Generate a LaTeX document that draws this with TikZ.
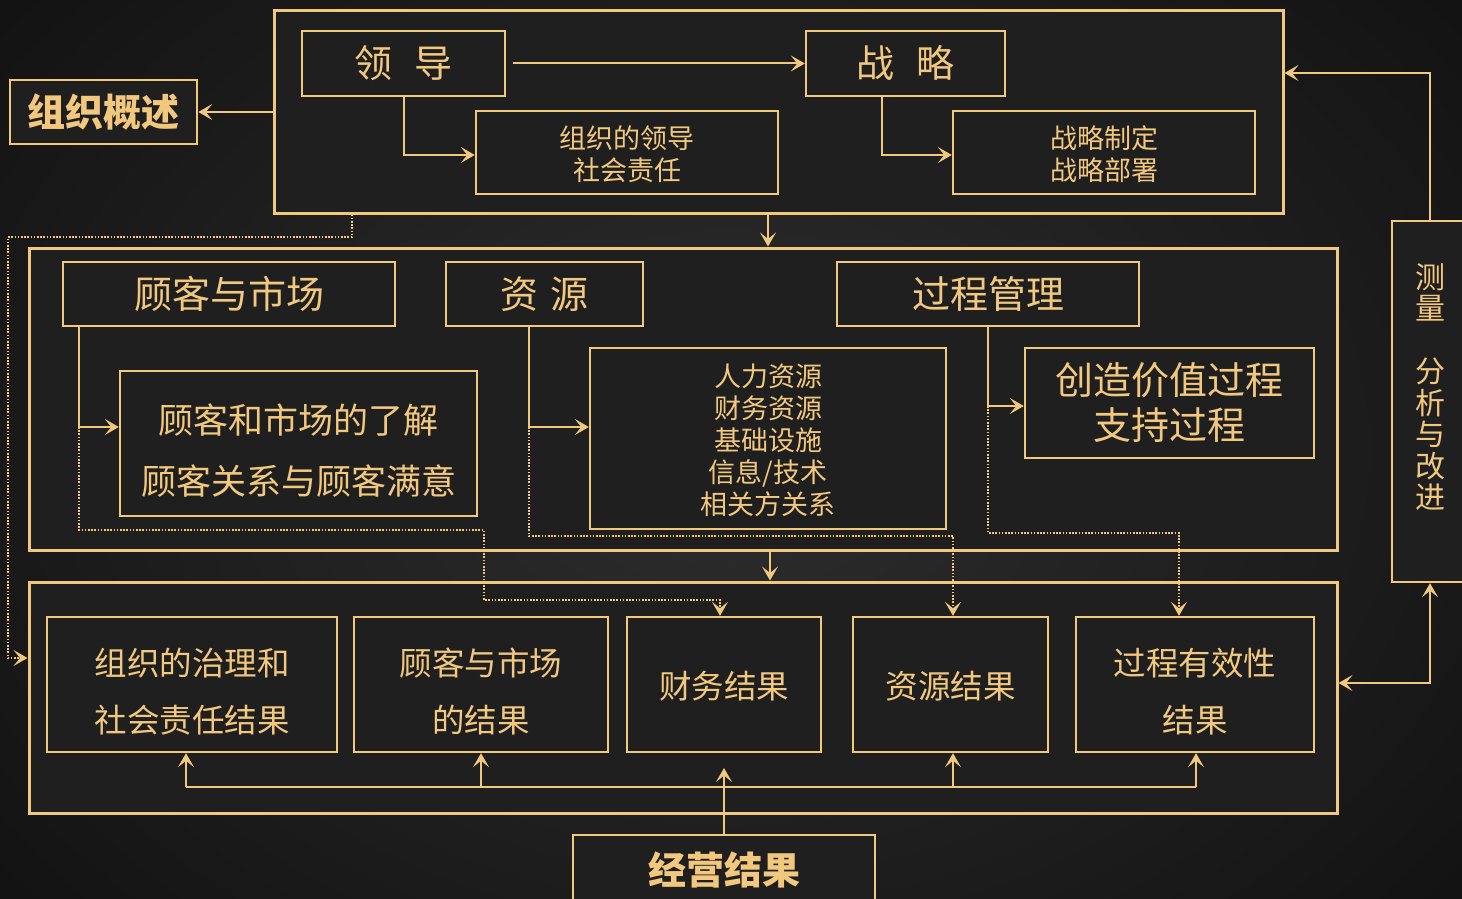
\documentclass[tikz,border=0pt]{standalone}
\usepackage{fontspec}
\setmainfont{Noto Sans CJK SC}
\usetikzlibrary{arrows.meta}
\definecolor{gold}{HTML}{F2C87E}
\definecolor{boxbg}{HTML}{1F1F1F}
\definecolor{bgout}{HTML}{131313}
\definecolor{bgin}{HTML}{2E2E2E}
\newcommand\myfs[2]{\fontsize{#1}{#2}\selectfont}
\tikzset{
  bigbox/.style={draw=gold, line width=3pt, fill=boxbg, inner sep=0pt},
  box/.style={draw=gold, line width=2.4pt, fill=boxbg, text=gold, align=center, inner sep=0pt},
  txt/.style={text=gold, align=center, inner sep=0pt},
  conn/.style={draw=gold, line width=2pt},
  tip/.tip={Stealth[length=14pt,width=16pt,inset=6.5pt]},
  arr/.style={conn, -tip},
  biarr/.style={conn, tip-tip},
  dotarr/.style={draw=gold, line width=1.6pt, dash pattern=on 1.6pt off 1.6pt, -tip},
  tbig/.style={font=\myfs{38}{44}},
  tsmall/.style={font=\myfs{27}{32}},
  tres/.style={font=\myfs{32.5}{57}},
}
\begin{document}
\begin{tikzpicture}[x=1pt,y=-1pt]
\useasboundingbox (0,0) rectangle (1462,899);
\fill[bgout] (0,0) rectangle (1462,899);
\shade[inner color=bgin, outer color=bgout] (-200,-250) rectangle (1662,1149);

% top area
\node[bigbox, minimum width=1009pt, minimum height=202pt] (top) at (778.5,112) {};
\node[box, line width=2.6pt, minimum width=187pt, minimum height=64pt, font=\myfs{38}{44}\bfseries] (org) at (103.5,112) {组织概述};
\node[box, tbig, minimum width=203pt, minimum height=65pt] (lead) at (403.5,63.5) {领\hspace{0.6em}导};
\node[box, tbig, minimum width=199pt, minimum height=65pt] (strat) at (905.5,63.5) {战\hspace{0.6em}略};
\node[box, minimum width=302pt, minimum height=83pt] (leadsub) at (627,152.5) {};
\node[txt, tsmall] (leadsubt) at ([yshift=-2pt]leadsub) {组织的领导\\社会责任};
\node[box, minimum width=302pt, minimum height=83pt] (stratsub) at (1104,152.5) {};
\node[txt, tsmall] (stratsubt) at ([yshift=-2pt]stratsub) {战略制定\\战略部署};

% middle area
\node[bigbox, minimum width=1308pt, minimum height=302pt] (mid) at (683,399) {};
\node[box, tbig, minimum width=332pt, minimum height=64pt] (cust) at (229,294) {顾客与市场};
\node[box, tbig, minimum width=197pt, minimum height=64pt] (res) at (544.5,294) {资\hspace{0.3em}源};
\node[box, tbig, minimum width=302pt, minimum height=64pt] (proc) at (988,294) {过程管理};
\node[box, minimum width=357pt, minimum height=145pt] (custsub) at (298.5,443.5) {};
\node[txt, font=\myfs{35}{61}] (custsubt) at ([yshift=-7.5pt]custsub) {顾客和市场的了解\\顾客关系与顾客满意};
\node[box, minimum width=356pt, minimum height=181pt] (ressub) at (768,438.5) {};
\node[txt, tsmall] (ressubt) at ([yshift=-2pt]ressub) {人力资源\\财务资源\\基础设施\\信息/技术\\相关方关系};
\node[box, font=\myfs{38}{45}, minimum width=289pt, minimum height=110pt] (procsub) at (1169.5,403) {创造价值过程\\支持过程};

% bottom area
\node[bigbox, minimum width=1308pt, minimum height=231pt] (bot) at (683,697.5) {};
\node[box, minimum width=290pt, minimum height=135pt] (r1) at (192,684.5) {};
\node[txt, tres] (r1t) at ([yshift=-7pt]r1) {组织的治理和\\社会责任结果};
\node[box, minimum width=254pt, minimum height=135pt] (r2) at (481,684.5) {};
\node[txt, tres] (r2t) at ([yshift=-7pt]r2) {顾客与市场\\的结果};
\node[box, minimum width=194pt, minimum height=135pt] (r3) at (724,684.5) {};
\node[txt, tres] (r3t) at ([yshift=-2pt]r3) {财务结果};
\node[box, minimum width=195pt, minimum height=135pt] (r4) at (950.5,684.5) {};
\node[txt, tres] (r4t) at ([yshift=-2pt]r4) {资源结果};
\node[box, minimum width=238pt, minimum height=135pt] (r5) at (1195,684.5) {};
\node[txt, tres] (r5t) at ([yshift=-7pt]r5) {过程有效性\\结果};
\node[box, line width=2.6pt, minimum width=302pt, minimum height=80pt] (biz) at (724,875) {};
\node[txt, font=\myfs{38}{44}\bfseries] (biztext) at (724,870) {经营结果};

% right box
\node[box, line width=2.4pt, minimum width=83pt, minimum height=361pt] (meas) at (1433.5,401.5) {};
\node[txt, font=\myfs{30}{31.5}] (meastext) at (1430,387) {测\\量\\ \\分\\析\\与\\改\\进};

% coordinates
\coordinate (d1) at (352,237);
\coordinate (d2) at (8,658);
\coordinate (c1) at (79,427);
\coordinate (c2) at (484,530);
\coordinate (c3) at (720,600);
\coordinate (s1) at (529,427);
\coordinate (s2) at (953,536);
\coordinate (p2) at (1179,533);
\coordinate (mm) at (770,0);
\coordinate (b1) at (186,787);
\coordinate (b5) at (1196,787);
\coordinate (bt) at (724,768);
\coordinate (m1) at (1430,73);
\coordinate (m2) at (1430,683);

% top connectors
\draw[arr] (top.west) -- (org.east);
\draw[arr] ([xshift=7pt]lead.east) -- (strat.west);
\draw[arr] (lead.south) |- ([yshift=-2.5pt]leadsub.west);
\draw[arr] ([xshift=-23.5pt]strat.south) |- ([yshift=-2.5pt]stratsub.west);
\draw[arr] (top.south -| ressub) -- (mid.north -| ressub);
\draw[dotarr] (top.south -| d1) -- (d1) -| (d2) -- (bot.west |- d2);

% middle connectors
\draw[arr] (cust.south -| c1) |- (custsub.west |- c1);
\draw[dotarr] (c1) |- (c2) |- (c3) -- (r3.north -| c3);
\draw[arr] (res.south -| s1) |- (ressub.west |- s1);
\draw[dotarr] (s1) |- (s2) -- (r4.north -| s2);
\draw[arr] (proc.south) |- ([yshift=-3pt]procsub.west);
\draw[dotarr] ([yshift=-3pt]proc.south |- procsub.west) |- (p2) -- (r5.north -| p2);
\draw[arr] (mid.south -| mm) -- (bot.north -| mm);

% bottom connectors
\draw[conn] (b1) -- (b5);
\draw[arr] (b1) -- (r1.south -| b1);
\draw[arr] (r2.south |- b1) -- (r2.south);
\draw[arr] (s2 |- b1) -- (r4.south -| s2);
\draw[arr] (b5) -- (r5.south -| b5);
\draw[arr] (biz.north -| bt) -- (bt);

% right connectors
\draw[arr] (meas.north -| m1) -- (m1) -- (top.east |- m1);
\draw[biarr] (bot.east |- m2) -- (m2) -- (meas.south -| m2);
\end{tikzpicture}
\end{document}
